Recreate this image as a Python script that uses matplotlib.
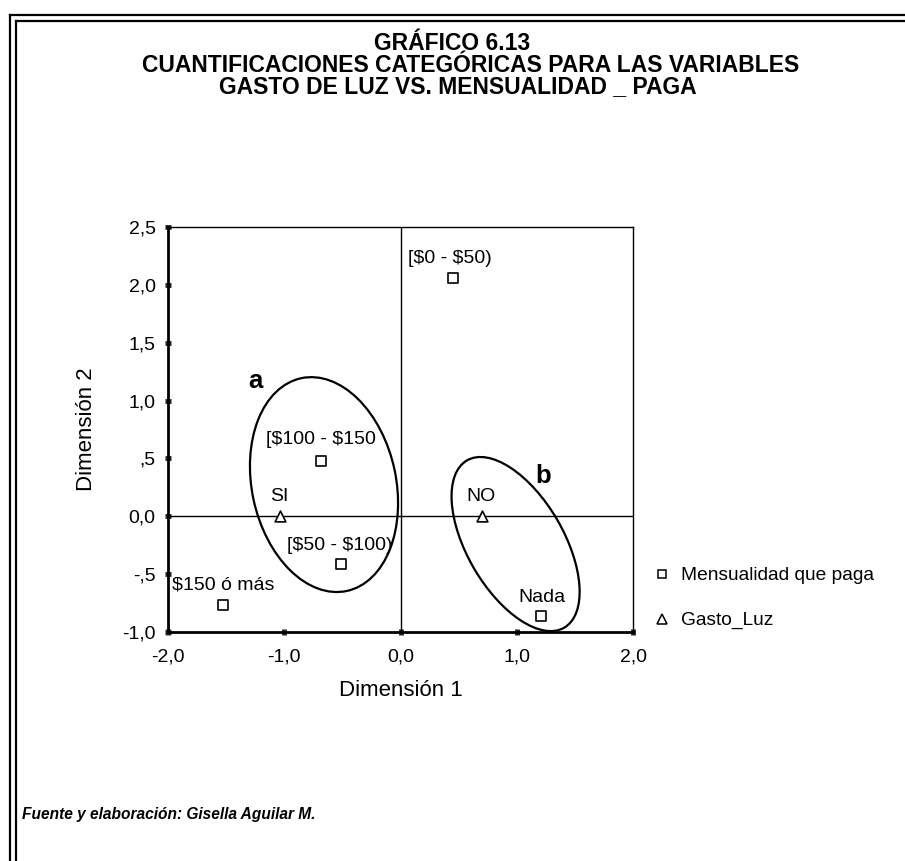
import matplotlib
matplotlib.use("Agg")
import matplotlib.pyplot as plt
from matplotlib.patches import Ellipse
from matplotlib.lines import Line2D

plt.rcParams['font.family'] = ['Liberation Sans', 'DejaVu Sans']
plt.rcParams['text.parse_math'] = False

# Data (category quantifications)
mens_labels = ["[$0 - $50)", "[$100 - $150", "[$50 - $100)", "$150 ó más", "Nada"]
mens_x = [0.45, -0.68, -0.51, -1.53, 1.21]
mens_y = [2.06, 0.48, -0.41, -0.77, -0.86]

gasto_labels = ["SI", "NO"]
gasto_x = [-1.04, 0.70]
gasto_y = [0.0, 0.0]

xticks = [-2.0, -1.0, 0.0, 1.0, 2.0]
xticklabels = ["-2,0", "-1,0", "0,0", "1,0", "2,0"]
yticks = [-1.0, -0.5, 0.0, 0.5, 1.0, 1.5, 2.0, 2.5]
yticklabels = ["-1,0", "-,5", "0,0", ",5", "1,0", "1,5", "2,0", "2,5"]

W, H = 905, 861
fig = plt.figure(figsize=(W / 100, H / 100), dpi=100)

ax_l, ax_r, ax_t, ax_b = 168, 633, 227, 632
ax = fig.add_axes([ax_l / W, 1 - ax_b / H, (ax_r - ax_l) / W, (ax_b - ax_t) / H])
ax.set_xlim(-2, 2)
ax.set_ylim(-1, 2.5)

for s in ['left', 'bottom']:
    ax.spines[s].set_linewidth(2.0)
for s in ['top', 'right']:
    ax.spines[s].set_linewidth(1.0)

ax.axhline(0, color='black', lw=1.0)
ax.axvline(0, color='black', lw=1.0)

ax.set_xticks(xticks)
ax.set_xticklabels(xticklabels)
ax.set_yticks(yticks)
ax.set_yticklabels(yticklabels)
ax.tick_params(direction='inout', length=4, width=3.5, labelsize=14, pad=7, color='#222222')
ax.tick_params(axis='x', pad=10)

ax.scatter(mens_x, mens_y, marker='s', s=42, facecolor='white', edgecolor='black', linewidth=1.2, zorder=5)
ax.scatter(gasto_x, gasto_y, marker='^', s=60, facecolor='white', edgecolor='black', linewidth=1.2, zorder=5)

fs = 14
# label anchors (left edge x in data units, vertical offset above point)
offsets = {
    "[$0 - $50)": (0.065, 0.17),
    "[$100 - $150": (-1.157, 0.18),
    "[$50 - $100)": (-0.976, 0.16),
    "$150 ó más": (-1.965, 0.18),
    "Nada": (1.01, 0.16),
}
for lab, x, y in zip(mens_labels, mens_x, mens_y):
    tx, dy = offsets[lab]
    ax.text(tx, y + dy, lab, fontsize=fs, ha='left', va='center')
gofs = {"SI": (-1.12, 0.17), "NO": (0.57, 0.17)}
for lab, x, y in zip(gasto_labels, gasto_x, gasto_y):
    tx, dy = gofs[lab]
    ax.text(tx, y + dy, lab, fontsize=fs, ha='left', va='center')

ax.add_patch(Ellipse((-0.658, 0.274), 1.24, 1.88, angle=12, fill=False, lw=1.6, edgecolor='black'))
ax.add_patch(Ellipse((0.99, -0.24), 0.83, 1.67, angle=30, fill=False, lw=1.6, edgecolor='black'))
ax.text(-1.25, 1.17, "a", fontsize=18.5, fontweight='bold', ha='center', va='center')
ax.text(1.23, 0.35, "b", fontsize=18.5, fontweight='bold', ha='center', va='center')

ax.set_xlabel("Dimensión 1", fontsize=16, labelpad=10)
ax.set_ylabel("Dimensión 2", fontsize=16, labelpad=18)

# legend
lg_x = 662
fig.add_artist(Line2D([lg_x / W], [1 - 574 / H], marker='s', markersize=6, markerfacecolor='white',
                      markeredgecolor='black', markeredgewidth=1.1, linestyle='none'))
fig.add_artist(Line2D([lg_x / W], [1 - 619 / H], marker='^', markersize=7, markerfacecolor='white',
                      markeredgecolor='black', markeredgewidth=1.1, linestyle='none'))
fig.text(681 / W, 1 - 575 / H, "Mensualidad que paga", fontsize=13.8, va='center', ha='left')
fig.text(681 / W, 1 - 620 / H, "Gasto_Luz", fontsize=13.8, va='center', ha='left')

# title
tfs = 16.5
fig.text(452 / W, 1 - 43 / H, "GRÁFICO 6.13", fontsize=tfs, fontweight='bold', ha='center', va='center')
fig.text(471 / W, 1 - 65 / H, "CUANTIFICACIONES CATEGÓRICAS PARA LAS VARIABLES", fontsize=tfs,
         fontweight='bold', ha='center', va='center')
fig.text(458 / W, 1 - 87 / H, "GASTO DE LUZ VS. MENSUALIDAD _ PAGA", fontsize=tfs, fontweight='bold',
         ha='center', va='center')

fig.text(22 / W, 1 - 814 / H, "Fuente y elaboración: Gisella Aguilar M.", fontsize=11.2, fontweight='bold',
         style='italic', ha='left', va='center')

# double frame
for xb, yb in [(9.5, 14.5), (15.5, 20.5)]:
    fig.add_artist(Line2D([xb / W, xb / W], [0, 1 - yb / H], color='black', lw=1.6))
    fig.add_artist(Line2D([xb / W, 1], [1 - yb / H, 1 - yb / H], color='black', lw=1.6))

fig.savefig("out.png", dpi=100)
